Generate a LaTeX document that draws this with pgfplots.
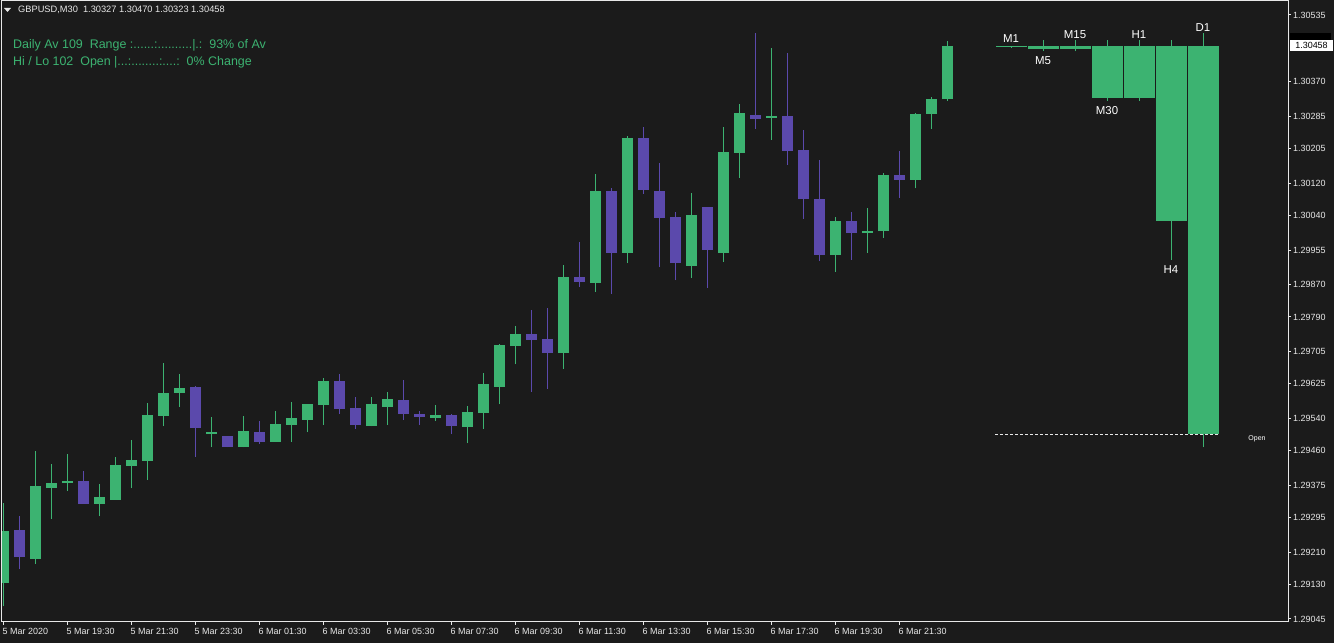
\documentclass[border=0pt]{standalone}
\usepackage{fontspec}
\setmainfont{Liberation Sans}
\usepackage{pgfplots}
\usepackage{pgfplotstable}
\pgfplotsset{compat=1.18}
\definecolor{bg}{HTML}{1B1B1B}
\definecolor{bullc}{HTML}{3CB371}
\definecolor{bearc}{HTML}{5B49AC}
\definecolor{fg}{HTML}{E8E8E8}

\pgfplotstableread{
i O H L C
0 1.29135 1.29331 1.29077 1.29261
2 1.29193 1.29459 1.29181 1.29373
3 1.29368 1.29427 1.29292 1.29380
4 1.29380 1.29452 1.29361 1.29385
6 1.29329 1.29378 1.29299 1.29346
7 1.29339 1.29445 1.29339 1.29425
8 1.29422 1.29487 1.29368 1.29437
9 1.29435 1.29578 1.29388 1.29548
10 1.29546 1.29676 1.29521 1.29603
11 1.29603 1.29649 1.29568 1.29615
13 1.29501 1.29543 1.29469 1.29506
15 1.29469 1.29546 1.29469 1.29509
17 1.29482 1.29558 1.29482 1.29526
18 1.29524 1.29580 1.29482 1.29541
19 1.29536 1.29575 1.29506 1.29575
20 1.29573 1.29640 1.29524 1.29633
23 1.29521 1.29593 1.29521 1.29575
24 1.29568 1.29606 1.29524 1.29588
27 1.29541 1.29573 1.29534 1.29548
29 1.29519 1.29570 1.29479 1.29556
30 1.29553 1.29652 1.29514 1.29625
31 1.29618 1.29723 1.29575 1.29721
32 1.29718 1.29768 1.29674 1.29748
35 1.29701 1.29918 1.29662 1.29889
37 1.29874 1.30143 1.29852 1.30101
39 1.29948 1.30237 1.29923 1.30232
43 1.29916 1.30096 1.29887 1.30042
45 1.29948 1.30259 1.29926 1.30197
46 1.30195 1.30315 1.30133 1.30293
48 1.30281 1.30454 1.30227 1.30286
52 1.29943 1.30037 1.29901 1.30027
54 1.29997 1.30059 1.29948 1.30002
55 1.30002 1.30145 1.29985 1.30140
57 1.30129 1.30293 1.30107 1.30291
58 1.30291 1.30333 1.30254 1.30327
59 1.30327 1.30470 1.30323 1.30458
}\bulltab

\pgfplotstableread{
i O H L C
1 1.29264 1.29299 1.29168 1.29197
5 1.29385 1.29410 1.29329 1.29329
12 1.29618 1.29620 1.29445 1.29516
14 1.29496 1.29496 1.29469 1.29469
16 1.29506 1.29534 1.29477 1.29482
21 1.29633 1.29649 1.29551 1.29563
22 1.29565 1.29593 1.29514 1.29524
25 1.29585 1.29635 1.29536 1.29551
26 1.29551 1.29558 1.29524 1.29543
28 1.29548 1.29551 1.29501 1.29521
33 1.29748 1.29807 1.29606 1.29733
34 1.29736 1.29813 1.29613 1.29701
36 1.29889 1.29975 1.29864 1.29876
38 1.30101 1.30107 1.29847 1.29948
40 1.30232 1.30259 1.30094 1.30103
41 1.30101 1.30170 1.29913 1.30034
42 1.30037 1.30049 1.29881 1.29923
44 1.30061 1.30061 1.29862 1.29955
47 1.30288 1.30491 1.30254 1.30278
49 1.30286 1.30441 1.30165 1.30200
50 1.30202 1.30251 1.30032 1.30081
51 1.30081 1.30177 1.29928 1.29943
53 1.30027 1.30049 1.29931 1.29997
56 1.30140 1.30200 1.30084 1.30129
}\beartab

% multi-timeframe panel: M1 M5 M15 M30 H1 H4 D1
\pgfplotstableread{
i O H L C
63 1.30456 1.30458 1.30454 1.30458
65 1.30451 1.30473 1.30446 1.30458
67 1.30451 1.30473 1.30446 1.30458
69 1.30330 1.30473 1.30323 1.30458
71 1.30330 1.30473 1.30323 1.30458
73 1.30027 1.30473 1.29931 1.30458
75 1.29501 1.30491 1.29469 1.30458
}\paneltab

\pgfplotsset{
  candle/.style 2 args={only marks, mark size=0pt, mark options={draw=none, fill=none}, forget plot, color=#2,
    error bars/.cd, y dir=plus, y explicit, error mark=none,
    error bar style={line width=#1, color=#2, solid}},
}

\begin{document}
\begin{tikzpicture}[x=1bp,y=1bp]
\useasboundingbox (0,0) rectangle (1334,643);
\fill[bg] (0,0) rectangle (1334,643);
\begin{axis}[
  at={(1bp,21bp)}, anchor=south west,
  scale only axis, width=1287bp, height=621bp,
  xmin=-0.15625, xmax=80.28125,
  ymin=1.290376, ymax=1.305695,
  axis on top,
  axis line style={fg, line width=1bp},
  tick style={fg, line width=1bp},
  tick align=outside, major tick length=3bp,
  xtick pos=bottom, ytick pos=right, yticklabel pos=right,
  xtick={0,4,...,56},
  xticklabels={5 Mar 2020, 5 Mar 19:30, 5 Mar 21:30, 5 Mar 23:30, 6 Mar 01:30, 6 Mar 03:30, 6 Mar 05:30, 6 Mar 07:30, 6 Mar 09:30, 6 Mar 11:30, 6 Mar 13:30, 6 Mar 15:30, 6 Mar 17:30, 6 Mar 19:30, 6 Mar 21:30},
  ytick={1.30535,1.30370,1.30285,1.30205,1.30120,1.30040,1.29955,1.29870,1.29790,1.29705,1.29625,1.29540,1.29460,1.29375,1.29295,1.29210,1.29130,1.29045},
  yticklabels={1.30535,1.30370,1.30285,1.30205,1.30120,1.30040,1.29955,1.29870,1.29790,1.29705,1.29625,1.29540,1.29460,1.29375,1.29295,1.29210,1.29130,1.29045},
  /pgf/number format/assume math mode=true,
  xticklabel style={font=\fontsize{9}{10}\selectfont, text=fg, anchor=north west, inner sep=0pt, xshift=-1bp, yshift=-3bp},
  yticklabel style={font=\fontsize{9}{10}\selectfont, text=fg, anchor=west, inner sep=0pt, xshift=2bp},
]
% wicks
\addplot[candle={1.25bp}{bullc}] table[x=i, y=L, y error plus expr={\thisrow{H}-\thisrow{L}}] {\bulltab};
\addplot[candle={1.25bp}{bearc}] table[x=i, y=L, y error plus expr={\thisrow{H}-\thisrow{L}}] {\beartab};
% bodies
\addplot[candle={11bp}{bullc}] table[x=i, y=O, y error plus expr={\thisrow{C}-\thisrow{O}}] {\bulltab};
\addplot[candle={11bp}{bearc}] table[x=i, y=C, y error plus expr={\thisrow{O}-\thisrow{C}}] {\beartab};
% panel
\addplot[candle={1.25bp}{bullc}] table[x=i, y=L, y error plus expr={\thisrow{H}-\thisrow{L}}] {\paneltab};
\addplot[candle={31bp}{bullc}] table[x=i, y=O, y error plus expr={\thisrow{C}-\thisrow{O}}] {\paneltab};
% daily open line
\addplot[fg, line width=0.8bp, dash pattern=on 3bp off 2bp, forget plot] coordinates {(61.97,1.29501) (75.97,1.29501)};
\end{axis}
% header
\fill[fg] (4,635) -- (11,635) -- (7.5,631) -- cycle;
\node[anchor=west, inner sep=0pt, text=fg, font=\fontsize{9.3}{10}\selectfont] at (18,633) {GBPUSD,M30\ \ 1.30327 1.30470 1.30323 1.30458};
\node[anchor=west, inner sep=0pt, text=bullc, font=\fontsize{12.5}{14}\selectfont] at (13,598) {Daily Av 109\ \ Range :......:..........|.:\ \ 93\% of Av};
\node[anchor=west, inner sep=0pt, text=bullc, font=\fontsize{12.5}{14}\selectfont] at (13,581) {Hi / Lo 102\ \ Open |...:........:....:\ \ 0\% Change};
% panel labels
\begin{scope}[every node/.style={anchor=base, inner sep=0pt, text=white, font=\fontsize{11.5}{12}\selectfont}]
\node at (1011,600) {M1};
\node at (1043,578) {M5};
\node at (1075,604) {M15};
\node at (1107,528) {M30};
\node at (1139,604) {H1};
\node at (1171,369) {H4};
\node at (1203,611) {D1};
\end{scope}
\node[inner sep=0pt, text=white, font=\fontsize{7}{8}\selectfont] at (1257,204) {Open};
% price labels
\fill[black] (1290,601) rectangle (1331,610);
\fill[white] (1290,592) rectangle (1333,603);
\node[inner sep=0pt, text=black, font=\fontsize{9}{10}\selectfont] at (1311.5,597.5) {1.30458};
\end{tikzpicture}
\end{document}
